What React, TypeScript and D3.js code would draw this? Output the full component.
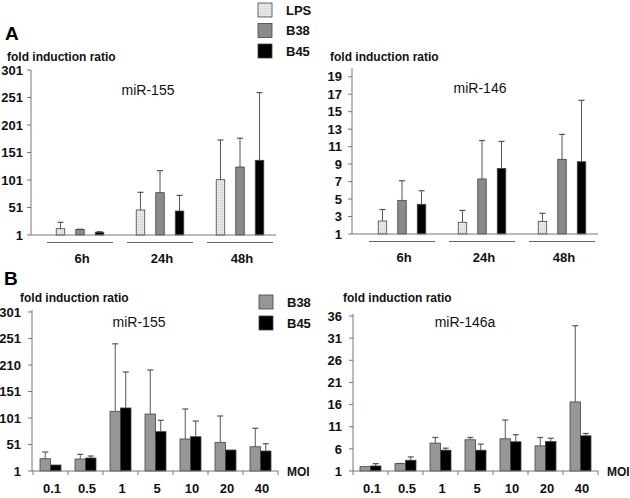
import React from "react";
import * as d3 from "d3";

// ---------- Panel A data ----------
const groupsA = ["6h", "24h", "48h"];
const seriesA = ["LPS", "B38", "B45"];
// miR-155 (panel A)
const a155LPS = [12.5, 46.5, 101.6];
const a155LPSErr = [11.5, 32.1, 72.1];
const a155B38 = [11, 78, 124.6];
const a155B38Err = [0.5, 40, 52.4];
const a155B45 = [6, 44.6, 136.8];
const a155B45Err = [1, 28.4, 123.2];
const a155Ticks = [1, 51, 101, 151, 201, 251, 301];
// miR-146 (panel A)
const a146LPS = [2.49, 2.34, 2.45];
const a146LPSErr = [1.31, 1.36, 0.92];
const a146B38 = [4.85, 7.3, 9.55];
const a146B38Err = [2.25, 4.4, 2.85];
const a146B45 = [4.4, 8.5, 9.27];
const a146B45Err = [1.55, 3.1, 7.03];
const a146Ticks = [1, 3, 5, 7, 9, 11, 13, 15, 17, 19];

// ---------- Panel B data ----------
const moi = ["0.1", "0.5", "1", "5", "10", "20", "40"];
const seriesB = ["B38", "B45"];
const b155B38 = [24.2, 23.6, 113.6, 108.5, 61.4, 55.1, 46.8];
const b155B38Err = [12.6, 8.9, 127.4, 83.1, 56.6, 49.7, 34.8];
const b155B45 = [12.3, 25.5, 119.9, 75.2, 65.7, 40.6, 38.7];
const b155B45Err = [0, 3.8, 67.9, 21.4, 29.6, 0, 13.8];
const b155Ticks = [1, 51, 101, 151, 201, 251, 301];
const b155TickLabels = ["1", "51", "101", "151", "210", "251", "301"];
const b146B38 = [1.98, 2.66, 7.3, 8.05, 8.27, 6.68, 16.6];
const b146B38Err = [0, 0.04, 1.27, 0.52, 4.23, 1.89, 17.2];
const b146B45 = [2.14, 3.43, 5.7, 5.7, 7.6, 7.66, 8.95];
const b146B45Err = [0.52, 0.75, 0.46, 1.37, 1.6, 0.74, 0.53];
const b146Ticks = [1, 6, 11, 16, 21, 26, 31, 36];

const FONT = "'Liberation Sans', Arial, Helvetica, sans-serif";
const AXIS = "#777";
const ERR = "#555";
const OUTLINE = "#444";

const fillA: Record<string, string> = { LPS: "url(#lpsPat)", B38: "#8a8a8a", B45: "#000" };
const fillB: Record<string, string> = { B38: "#979797", B45: "#000" };

type Row = { key: string; vals: number[]; errs: number[] };

function YAxis({ x, y, ticks, labels, labelGap, top }: { x: number; y: d3.ScaleLinear<number, number>; ticks: number[]; labels?: string[]; labelGap: number; top: number }) {
  return (
    <g>
      <line x1={x} x2={x} y1={top} y2={y.range()[0]} stroke={AXIS} strokeWidth={1} />
      {ticks.map((t, i) => (
        <g key={i}>
          <line x1={x - 4} x2={x} y1={y(t)} y2={y(t)} stroke={AXIS} strokeWidth={1} />
          <text x={x - labelGap} y={y(t)} dy="0.36em" textAnchor="end" fontFamily={FONT} fontWeight="bold" fontSize={13} fill="#111">
            {labels ? labels[i] : String(t)}
          </text>
        </g>
      ))}
    </g>
  );
}

function ErrBar({ cx, y0, y1 }: { cx: number; y0: number; y1: number }) {
  return (
    <g>
      <line x1={cx} x2={cx} y1={y0} y2={y1} stroke={ERR} strokeWidth={1} />
      <line x1={cx - 3} x2={cx + 3} y1={y1} y2={y1} stroke={ERR} strokeWidth={1.2} />
    </g>
  );
}

function PanelA({ axisX, range, yRange, domain, ticks, rows, title, titleX, titleY }: any) {
  const x = d3.scaleBand<string>().domain(groupsA).range(range).paddingInner(0.175).paddingOuter(0.0875);
  const bw = x.bandwidth();
  const sub = d3.scalePoint<string>().domain(seriesA).range([0, bw]).padding(0.69);
  const y = d3.scaleLinear().domain(domain).range(yRange);
  const base = y(domain[0]);
  const barW = 8.5;
  const endX = (x(groupsA[2]) as number) + bw + 3;
  return (
    <g>
      <YAxis x={axisX} y={y} ticks={ticks} labelGap={axisX < 100 ? 8 : 10} top={y(domain[1])} />
      {(rows as Row[]).map((r) =>
        groupsA.map((g, i) => {
          const cx = (x(g) as number) + (sub(r.key) as number);
          const yt = y(r.vals[i]);
          return (
            <g key={r.key + g}>
              {r.errs[i] > 0 && <ErrBar cx={cx} y0={yt} y1={y(r.vals[i] + r.errs[i])} />}
              <rect x={cx - barW / 2} y={yt} width={barW} height={base - yt} fill={fillA[r.key]} stroke={OUTLINE} strokeWidth={0.8} />
            </g>
          );
        })
      )}
      <line x1={axisX} x2={endX} y1={base} y2={base} stroke={AXIS} strokeWidth={1} />
      {groupsA.map((g) => (
        <g key={g}>
          <line x1={x(g) as number} x2={(x(g) as number) + bw} y1={base + 7.5} y2={base + 7.5} stroke="#666" strokeWidth={1.2} />
          <text x={(x(g) as number) + bw / 2 + 2} y={base + 28} textAnchor="middle" fontFamily={FONT} fontWeight="bold" fontSize={13} fill="#111">
            {g}
          </text>
        </g>
      ))}
      <text x={titleX} y={titleY} textAnchor="middle" fontFamily={FONT} fontSize={14} fill="#111">
        {title}
      </text>
    </g>
  );
}

function PanelB({ axisX, range, yRange, domain, ticks, labels, rows, title, titleX, titleY }: any) {
  const x = d3.scaleBand<string>().domain(moi).range(range).padding(0);
  const bw = x.bandwidth();
  const sub = d3.scaleBand<string>().domain(seriesB).range([0, bw]).paddingInner(0).paddingOuter(0.667);
  const y = d3.scaleLinear().domain(domain).range(yRange);
  const base = y(domain[0]);
  const r0 = range[0];
  const r1 = range[1];
  const bounds = [...moi.map((m) => x(m) as number), r1];
  return (
    <g>
      <YAxis x={axisX} y={y} ticks={ticks} labels={labels} labelGap={11} top={y(domain[1]) - 2} />
      {(rows as Row[]).map((r) =>
        moi.map((m, i) => {
          const x0 = (x(m) as number) + (sub(r.key) as number);
          const w = sub.bandwidth();
          const yt = y(r.vals[i]);
          return (
            <g key={r.key + m}>
              {r.errs[i] > 0 && <ErrBar cx={x0 + w / 2} y0={yt} y1={y(r.vals[i] + r.errs[i])} />}
              <rect x={x0} y={yt} width={w} height={base - yt} fill={fillB[r.key]} stroke={OUTLINE} strokeWidth={0.8} />
            </g>
          );
        })
      )}
      <line x1={axisX} x2={r1} y1={base} y2={base} stroke={AXIS} strokeWidth={1} />
      {bounds.map((b, i) => (
        <line key={i} x1={b} x2={b} y1={base} y2={base + 4} stroke={AXIS} strokeWidth={1} />
      ))}
      {moi.map((m) => (
        <text key={m} x={(x(m) as number) + bw / 2 + 1.5} y={base + 22} textAnchor="middle" fontFamily={FONT} fontWeight="bold" fontSize={13} fill="#111">
          {m}
        </text>
      ))}
      <text x={r1 + 9} y={base + 4.5} fontFamily={FONT} fontWeight="bold" fontSize={12} fill="#111">
        MOI
      </text>
      <text x={titleX} y={titleY} textAnchor="middle" fontFamily={FONT} fontSize={14} fill="#111">
        {title}
      </text>
    </g>
  );
}

function Legend({ x, y0, keys, fills, step }: { x: number; y0: number; keys: string[]; fills: Record<string, string>; step: number }) {
  return (
    <g>
      {keys.map((k, i) => (
        <g key={k}>
          <rect x={x} y={y0 + i * step} width={14} height={14} fill={fills[k]} stroke={OUTLINE} strokeWidth={0.8} />
          <text x={x + 28} y={y0 + i * step + 7} dy="0.36em" fontFamily={FONT} fontWeight="bold" fontSize={13} fill="#111">
            {k}
          </text>
        </g>
      ))}
    </g>
  );
}

export default function App() {
  const rowsA155: Row[] = [
    { key: "LPS", vals: a155LPS, errs: a155LPSErr },
    { key: "B38", vals: a155B38, errs: a155B38Err },
    { key: "B45", vals: a155B45, errs: a155B45Err },
  ];
  const rowsA146: Row[] = [
    { key: "LPS", vals: a146LPS, errs: a146LPSErr },
    { key: "B38", vals: a146B38, errs: a146B38Err },
    { key: "B45", vals: a146B45, errs: a146B45Err },
  ];
  const rowsB155: Row[] = [
    { key: "B38", vals: b155B38, errs: b155B38Err },
    { key: "B45", vals: b155B45, errs: b155B45Err },
  ];
  const rowsB146: Row[] = [
    { key: "B38", vals: b146B38, errs: b146B38Err },
    { key: "B45", vals: b146B45, errs: b146B45Err },
  ];
  return (
    <svg width={630} height={498} style={{ position: "absolute", left: 0, top: 0, background: "#fff" }}>
      <defs>
        <pattern id="lpsPat" width={2} height={2} patternUnits="userSpaceOnUse">
          <rect width={2} height={2} fill="#e8e8e8" />
          <rect width={1} height={1} fill="#cfcfcf" />
        </pattern>
      </defs>
      <rect width={630} height={498} fill="#fff" />
      {/* Panel labels */}
      <text x={5} y={40} fontFamily={FONT} fontWeight="bold" fontSize={19} fill="#000">A</text>
      <text x={4} y={285} fontFamily={FONT} fontWeight="bold" fontSize={19} fill="#000">B</text>
      {/* y titles */}
      <text x={7} y={61} fontFamily={FONT} fontWeight="bold" fontSize={12} fill="#111">fold induction ratio</text>
      <text x={330} y={61} fontFamily={FONT} fontWeight="bold" fontSize={12} fill="#111">fold induction ratio</text>
      <text x={20} y={301.5} fontFamily={FONT} fontWeight="bold" fontSize={12} fill="#111">fold induction ratio</text>
      <text x={343} y={301.5} fontFamily={FONT} fontWeight="bold" fontSize={12} fill="#111">fold induction ratio</text>

      <PanelA axisX={31} range={[40, 280]} yRange={[235, 70]} domain={[1, 301]} ticks={a155Ticks} rows={rowsA155} title="miR-155" titleX={148} titleY={95} />
      <PanelA axisX={352} range={[362, 602]} yRange={[234, 68]} domain={[1, 20]} ticks={a146Ticks} rows={rowsA146} title="miR-146" titleX={480} titleY={93} />

      <PanelB axisX={32} range={[33, 278]} yRange={[471, 312]} domain={[1, 301]} ticks={b155Ticks} labels={b155TickLabels} rows={rowsB155} title="miR-155" titleX={139} titleY={326.5} />
      <PanelB axisX={353} range={[353, 598]} yRange={[471, 316]} domain={[1, 36]} ticks={b146Ticks} rows={rowsB146} title="miR-146a" titleX={465} titleY={326.5} />

      <Legend x={258} y0={3} keys={seriesA} fills={fillA} step={20.5} />
      <Legend x={259} y0={295} keys={seriesB} fills={fillB} step={21} />
    </svg>
  );
}
